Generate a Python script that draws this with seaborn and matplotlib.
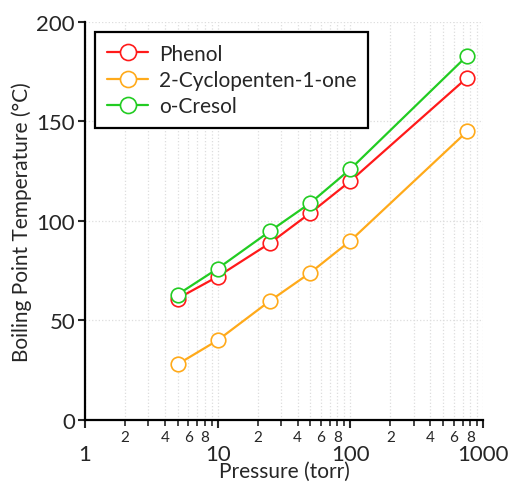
import numpy as np
import pandas as pd
import seaborn as sns
import matplotlib.pyplot as plt
from matplotlib.ticker import LogLocator, FuncFormatter, FixedLocator

pressure = [5, 10, 25, 50, 100, 760]
phenol = [61, 72, 89, 104, 120, 172]
cyclopentenone = [28, 40, 60, 74, 90, 145]
cresol = [63, 76, 95, 109, 126, 183]

names = ['Phenol', '2-Cyclopenten-1-one', 'o-Cresol']
colors = ['#ff1a1a', '#ffaa1a', '#22cc22']

df = pd.DataFrame({
    'pressure': pressure * 3,
    'temp': phenol + cyclopentenone + cresol,
    'compound': sum([[n] * len(pressure) for n in names], []),
})

sns.set_style('white')
plt.rcParams['font.family'] = ['Lato', 'DejaVu Sans']

fig = plt.figure(figsize=(5.08, 4.85), dpi=100)
ax = fig.add_axes([0.167, 0.132, 0.784, 0.821])

for name, col in zip(names, colors):
    sub = df[df['compound'] == name]
    sns.lineplot(data=sub, x='pressure', y='temp', ax=ax, color=col, lw=1.6,
                 marker='o', ms=10.5, mfc='white', mec=col, mew=1.2, label=name)

ax.set_xscale('log')
ax.set_xlim(1, 1000)
ax.set_ylim(0, 200)
ax.set_yticks([0, 50, 100, 150, 200])

ax.xaxis.set_major_locator(FixedLocator([1, 10, 100, 1000]))
ax.xaxis.set_minor_locator(LogLocator(base=10, subs=np.arange(2, 10)))
ax.xaxis.set_major_formatter(FuncFormatter(lambda v, p: '%g' % v))

def minor_fmt(v, p):
    d = int(round(v / 10 ** np.floor(np.log10(v))))
    return str(d) if d in (2, 4, 6, 8) else ''

ax.xaxis.set_minor_formatter(FuncFormatter(minor_fmt))
ax.tick_params(axis='x', which='major', labelsize=16, length=6, width=1.5,
               direction='out', bottom=True, pad=11)
ax.tick_params(axis='x', which='minor', labelsize=11, length=4, width=1.2,
               direction='out', bottom=True, pad=3)
ax.tick_params(axis='y', labelsize=16, length=5, width=1.5, direction='out', left=True, pad=2)

ax.grid(True, which='both', axis='x', color='#dddddd', ls=':', lw=0.9)
ax.grid(True, which='major', axis='y', color='#dddddd', ls=':', lw=0.9)

for s in ['top', 'right']:
    ax.spines[s].set_visible(False)
for s in ['left', 'bottom']:
    ax.spines[s].set_linewidth(1.6)
    ax.spines[s].set_color('black')

ax.set_xlabel('Pressure (torr)', fontsize=15, labelpad=-2)
ax.set_ylabel('Boiling Point Temperature (\u00b0C)', fontsize=15, labelpad=3)

leg = ax.legend(loc='upper left', fontsize=15, frameon=True, fancybox=False,
                framealpha=1, borderaxespad=0.5, handlelength=2.0, handletextpad=0.5,
                labelspacing=0.3, borderpad=0.55, markerscale=1.1)
leg.get_frame().set_edgecolor('black')
leg.get_frame().set_linewidth(1.6)

plt.savefig('out.png', dpi=100)
